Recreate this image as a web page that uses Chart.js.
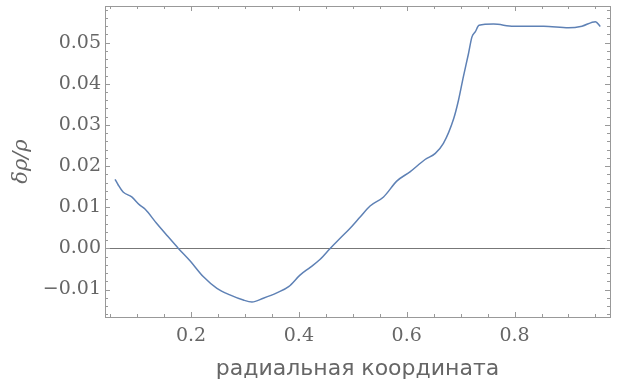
<!DOCTYPE html>
<html>
<head>
<meta charset="utf-8">
<script src="https://cdn.jsdelivr.net/npm/chart.js@4"></script>
<style>
  html, body { margin: 0; padding: 0; background: #fff; }
  #wrap { width: 625px; height: 385px; }
</style>
</head>
<body>
<div id="wrap"><canvas id="plot"></canvas></div>
<script>
// radial coordinate samples and the relative density perturbation
const radius = [0.059, 0.065, 0.074, 0.090, 0.105, 0.115, 0.136, 0.155, 0.1765, 0.198,
  0.223, 0.248, 0.272, 0.297, 0.313, 0.334, 0.359, 0.381, 0.402, 0.421,
  0.439, 0.458, 0.476, 0.495, 0.514, 0.532, 0.557, 0.582, 0.606, 0.634,
  0.653, 0.668, 0.687, 0.696, 0.705, 0.7145, 0.721, 0.727, 0.734, 0.761,
  0.798, 0.854, 0.900, 0.925, 0.950, 0.959];
const deltaRho = [0.0168, 0.0154, 0.0137, 0.0125, 0.0105, 0.0095, 0.0061, 0.0032, 0.0000, -0.0030,
  -0.0069, -0.0097, -0.0113, -0.01255, -0.0130, -0.0121, -0.0108, -0.0093, -0.0065, -0.0046,
  -0.0027, 0.0000, 0.0024, 0.0049, 0.0077, 0.0103, 0.0125, 0.0164, 0.0186, 0.0216,
  0.0231, 0.0255, 0.0315, 0.0360, 0.0417, 0.0473, 0.0514, 0.0526, 0.0542, 0.0545,
  0.0540, 0.0540, 0.0536, 0.0540, 0.0551, 0.0539];

const xTicks = [0.2, 0.4, 0.6, 0.8];
const yTicks = [-0.01, 0.00, 0.01, 0.02, 0.03, 0.04, 0.05];
const xMinorStep = 0.05;
const yMinorStep = 0.002;

const xRange = [0.0404, 0.977];
const yRange = [-0.01667, 0.0589];

const GRAY = "#999999";
const TEXT = "#666666";

// frame with inward ticks on all four sides + the zero line
const framePlugin = {
  id: "frame",
  beforeDatasetsDraw(chart) {
    const { ctx, chartArea: a, scales: { y } } = chart;
    const y0 = Math.round(y.getPixelForValue(0)) + 0.5;
    ctx.save();
    ctx.strokeStyle = "#777777";
    ctx.lineWidth = 1;
    ctx.beginPath();
    ctx.moveTo(a.left, y0);
    ctx.lineTo(a.right, y0);
    ctx.stroke();
    ctx.restore();
  },
  afterDraw(chart) {
    const { ctx, chartArea: a, scales: { x, y } } = chart;
    ctx.save();
    ctx.strokeStyle = GRAY;
    ctx.lineWidth = 1;
    ctx.strokeRect(Math.round(a.left) + 0.5, Math.round(a.top) + 0.5,
      Math.round(a.right - a.left), Math.round(a.bottom - a.top));

    const isMajor = (v, list) => list.some(t => Math.abs(t - v) < 1e-6);
    ctx.beginPath();
    // x ticks (bottom + top)
    for (let v = 0; v <= xRange[1]; v += xMinorStep) {
      const val = Math.round(v * 100) / 100;
      if (val < xRange[0]) continue;
      const px = Math.round(x.getPixelForValue(val)) + 0.5;
      const len = isMajor(val, xTicks) ? 5 : 3;
      ctx.moveTo(px, a.bottom); ctx.lineTo(px, a.bottom - len);
      ctx.moveTo(px, a.top); ctx.lineTo(px, a.top + len);
    }
    // y ticks (left + right)
    for (let v = -0.016; v <= yRange[1]; v += yMinorStep) {
      const val = Math.round(v * 1000) / 1000;
      if (val < yRange[0]) continue;
      const py = Math.round(y.getPixelForValue(val)) + 0.5;
      const len = isMajor(val, yTicks) ? 5 : 3;
      ctx.moveTo(a.left, py); ctx.lineTo(a.left + len, py);
      ctx.moveTo(a.right, py); ctx.lineTo(a.right - len, py);
    }
    ctx.stroke();
    ctx.restore();
  }
};

const ctx = document.getElementById("plot").getContext("2d");
new Chart(ctx, {
  type: "line",
  data: {
    datasets: [{
      data: radius.map((r, i) => ({ x: r, y: deltaRho[i] })),
      borderColor: "#5E81B5",
      borderWidth: 1.5,
      pointRadius: 0,
      cubicInterpolationMode: "monotone",
      fill: false
    }]
  },
  options: {
    responsive: true,
    maintainAspectRatio: false,
    animation: false,
    layout: { padding: { top: 6, right: 15, left: 0, bottom: 0 } },
    plugins: { legend: { display: false }, tooltip: { enabled: false } },
    scales: {
      x: {
        type: "linear",
        min: xRange[0],
        max: xRange[1],
        afterBuildTicks: s => { s.ticks = xTicks.map(v => ({ value: v })); },
        afterFit: s => { s.height = 68; s.paddingLeft = 0; s.paddingRight = 0; },
        grid: { display: false, drawTicks: false },
        border: { display: false },
        ticks: {
          autoSkip: false,
          maxRotation: 0,
          padding: 8,
          color: TEXT,
          font: { family: "DejaVu Serif", size: 19 },
          callback: v => v.toFixed(1)
        },
        title: {
          display: true,
          text: "радиальная координата",
          color: TEXT,
          font: { family: "DejaVu Sans", size: 22 },
          padding: { top: 0, bottom: 3 }
        }
      },
      y: {
        type: "linear",
        min: yRange[0],
        max: yRange[1],
        afterBuildTicks: s => { s.ticks = yTicks.map(v => ({ value: v })); },
        afterFit: s => { s.width = 105; s.paddingTop = 0; s.paddingBottom = 0; },
        grid: { display: false, drawTicks: false },
        border: { display: false },
        ticks: {
          autoSkip: false,
          padding: 4,
          color: TEXT,
          font: { family: "DejaVu Serif", size: 19 },
          callback: v => (v < 0 ? "\u2212" : "") + Math.abs(v).toFixed(2)
        },
        title: {
          display: true,
          text: "δρ/ρ",
          color: TEXT,
          font: { family: "DejaVu Serif", size: 21, style: "italic" },
          padding: { top: 9, bottom: 0 }
        }
      }
    }
  },
  plugins: [framePlugin]
});
</script>
</body>
</html>
